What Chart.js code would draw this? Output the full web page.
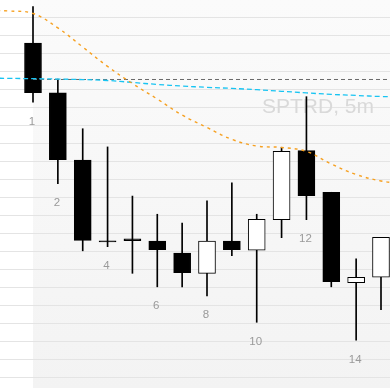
<!DOCTYPE html>
<html>
<head>
<meta charset="utf-8">
<script src="https://cdn.jsdelivr.net/npm/chart.js@4"></script>
<style>
html,body{margin:0;padding:0;background:#fff;overflow:hidden}
canvas{display:block}
</style>
</head>
<body>
<canvas id="c" width="390" height="388" style="width:390px;height:388px"></canvas>
<script>
// ---- data ----
const candleIndex  = [1, 2, 3, 4, 5, 6, 7, 8, 9, 10, 11, 12, 13, 14, 15];
const openValues   = [19.58, 16.81, 13.08, 8.60, 8.71, 8.58, 7.92, 6.79, 8.58, 8.07, 9.77, 13.60, 11.29, 6.27, 6.57];
const highValues   = [21.60, 17.58, 14.82, 13.81, 11.08, 10.07, 9.58, 10.81, 11.81, 10.07, 13.79, 16.60, 11.29, 7.60, 8.79];
const lowValues    = [16.29, 11.77, 8.04, 8.27, 6.79, 6.04, 6.04, 5.54, 7.77, 4.07, 8.77, 9.77, 6.04, 3.07, 4.77];
const closeValues  = [16.82, 13.10, 8.62, 8.53, 8.60, 8.10, 6.82, 8.58, 8.10, 9.79, 13.57, 11.10, 6.32, 6.57, 8.79];
const candleLabels = ['1', '2', '', '4', '', '6', '', '8', '', '10', '', '12', '', '14', ''];

const lineIndex    = [-1, 0, 1, 2, 3, 4, 5, 6, 7, 8, 9, 10, 11, 12, 13, 14, 15, 16];
const cyanValues   = [17.63, 17.62, 17.60, 17.58, 17.55, 17.50, 17.39, 17.28, 17.19, 17.12, 17.06, 16.99, 16.90, 16.81, 16.73, 16.67, 16.61, 16.58];
const orangeValues = [21.40, 21.36, 21.22, 20.42, 19.36, 18.28, 17.33, 16.47, 15.58, 14.89, 14.23, 13.86, 13.78, 13.56, 12.86, 12.28, 11.92, 11.75];
const levelIndex   = [1, 16];
const levelValues  = [17.555, 17.555];

const gridValues   = [1,2,3,4,5,6,7,8,9,10,11,12,13,14,15,16,17,18,19,20,21];
const watermark    = 'SPTRD, 5m';

// ---- build datasets ----
const bodies = candleIndex.map((x, i) => ({ x, y: [openValues[i], closeValues[i]] }));
const wicks  = candleIndex.map((x, i) => ({ x, y: [lowValues[i], highValues[i]] }));
const bodyFill = candleIndex.map((x, i) => closeValues[i] > openValues[i] ? '#ffffff' : '#000000');
const toPts = (xs, ys) => xs.map((x, i) => ({ x, y: ys[i] }));

const bgPlugin = {
  id: 'bg',
  beforeDraw(chart) {
    const { ctx, chartArea: a, scales } = chart;
    ctx.save();
    ctx.fillStyle = '#ffffff';
    ctx.fillRect(0, 0, chart.width, chart.height);
    const x0 = scales.x.getPixelForValue(candleIndex[0]);
    const g = ctx.createLinearGradient(0, a.top, 0, a.bottom);
    g.addColorStop(0, '#fbfbfb');
    g.addColorStop(1, '#f3f3f3');
    ctx.fillStyle = g;
    ctx.fillRect(x0, a.top, a.right - x0, a.bottom - a.top);
    ctx.restore();
  },
  beforeDatasetsDraw(chart) {
    const { ctx, chartArea: a } = chart;
    ctx.save();
    ctx.font = '21px "Liberation Sans", Arial, sans-serif';
    ctx.fillStyle = '#d9d9d9';
    ctx.textAlign = 'right';
    ctx.textBaseline = 'alphabetic';
    ctx.fillText(watermark, a.right - 16, a.top + 112.5);
    ctx.restore();
  },
  afterDatasetsDraw(chart) {
    const { ctx, scales } = chart;
    ctx.save();
    ctx.font = '11.5px "Liberation Sans", Arial, sans-serif';
    ctx.fillStyle = '#9a9a9a';
    ctx.textAlign = 'center';
    ctx.textBaseline = 'alphabetic';
    candleIndex.forEach((x, i) => {
      if (!candleLabels[i]) return;
      const px = scales.x.getPixelForValue(x) - 1;
      const py = scales.y.getPixelForValue(lowValues[i]) + 22.5;
      ctx.fillText(candleLabels[i], px, py);
    });
    ctx.restore();
  }
};

new Chart(document.getElementById('c'), {
  type: 'bar',
  data: {
    datasets: [
      {
        type: 'line', label: 'orange', data: toPts(lineIndex, orangeValues),
        borderColor: '#f6a020', borderWidth: 1.4, borderDash: [3, 4],
        pointRadius: 0, tension: 0.4, order: 0
      },
      {
        type: 'line', label: 'cyan', data: toPts(lineIndex, cyanValues),
        borderColor: '#18c4f2', borderWidth: 1.3, borderDash: [5, 3],
        pointRadius: 0, tension: 0.4, order: 0
      },
      {
        type: 'line', label: 'level', data: toPts(levelIndex, levelValues),
        borderColor: '#6a6a6a', borderWidth: 1, borderDash: [4, 3],
        pointRadius: 0, tension: 0, order: 0
      },
      {
        label: 'body', data: bodies, backgroundColor: bodyFill,
        borderColor: '#000000', borderWidth: 1, borderSkipped: false,
        barThickness: 17, grouped: false, minBarLength: 1, order: 1
      },
      {
        label: 'wick', data: wicks, backgroundColor: '#000000',
        borderWidth: 0, barThickness: 1, grouped: false, order: 2
      }
    ]
  },
  options: {
    responsive: false,
    maintainAspectRatio: false,
    animation: false,
    layout: { padding: 0 },
    plugins: { legend: { display: false }, tooltip: { enabled: false } },
    scales: {
      x: {
        type: 'linear', display: false, offset: false,
        min: -0.3276, max: 15.362,
        grid: { display: false }
      },
      y: {
        type: 'linear', min: 0.42, max: 21.97,
        beginAtZero: false,
        border: { display: false },
        grid: { color: '#e4e4e4', lineWidth: 1, drawTicks: false },
        ticks: { display: false },
        afterBuildTicks(s) { s.ticks = gridValues.map(v => ({ value: v })); },
        afterFit(s) { s.width = 0; }
      }
    }
  },
  plugins: [bgPlugin]
});
</script>
</body>
</html>
